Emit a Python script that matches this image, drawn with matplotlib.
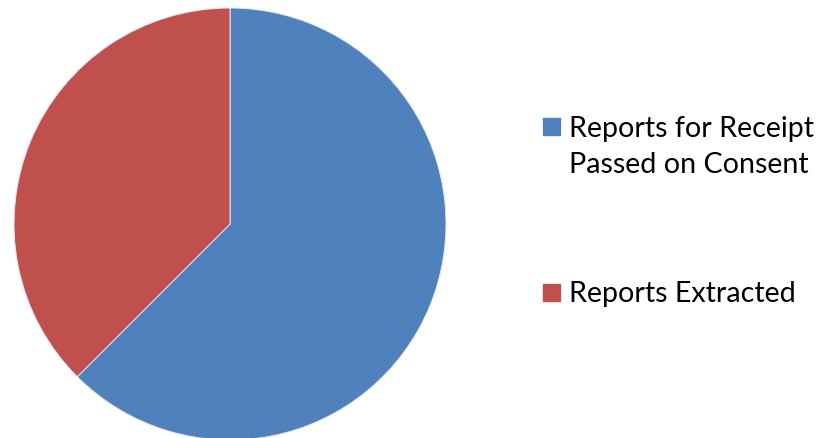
import matplotlib.pyplot as plt
from matplotlib.patches import Rectangle

labels = ["Reports for Receipt\nPassed on Consent", "Reports Extracted"]
values = [5, 3]
colors = ["#4F81BD", "#C0504D"]

W, H = 824, 439
fig = plt.figure(figsize=(W / 100, H / 100), dpi=100)

# pie area in pixels: centre (230, 225), radius 216
cx, cy, r = 230, 225, 216
ax = fig.add_axes([(cx - r) / W, (H - cy - r) / H, 2 * r / W, 2 * r / H])
ax.pie(values, colors=colors, startangle=90, counterclock=False, radius=1,
       wedgeprops=dict(edgecolor="#e8e8e8", linewidth=0.7))
ax.set_xlim(-1, 1)
ax.set_ylim(-1, 1)
ax.set_aspect("equal")
ax.axis("off")

# legend drawn by hand to match the spread-out layout
entries = [(127, 147), (293, 294)]  # (square centre y, text centre y) in pixels
for (sq_y, txt_y), lab, col in zip(entries, labels, colors):
    fig.add_artist(Rectangle((543 / W, (H - sq_y - 8.5) / H), 17 / W, 17 / H,
                             transform=fig.transFigure, color=col))
    fig.text(569 / W, (H - txt_y) / H, lab, fontsize=20.6, family="Lato",
             va="center", ha="left", linespacing=1.5, color="black")

fig.savefig("out.png", dpi=100)
